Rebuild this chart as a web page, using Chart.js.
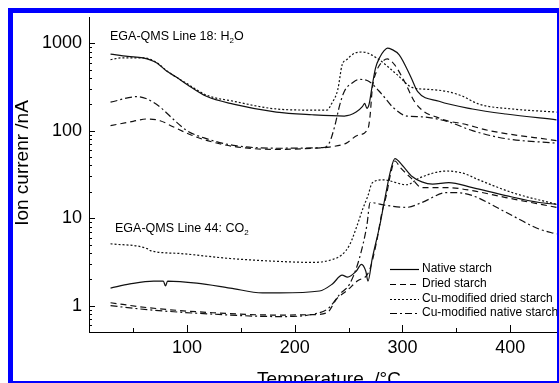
<!DOCTYPE html>
<html>
<head>
<meta charset="utf-8">
<script src="https://cdn.jsdelivr.net/npm/chart.js@4.4.1/dist/chart.umd.min.js"></script>
<style>
  html, body { margin: 0; padding: 0; background: #fff; }
  canvas { display: block; }
</style>
</head>
<body>
<canvas id="grafico" width="559" height="383"></canvas>
<script>
// H2O (linha 18)
const tempNativeH2O = [29, 45, 59, 72, 81, 90, 100, 118, 143, 183, 216, 246, 257, 263, 265, 267, 269, 272, 275, 279, 283, 286, 290, 297, 308, 314, 334, 365, 396, 443];
const nativeH2O = [750, 705, 680, 595, 480, 410, 337, 247, 201, 163, 152, 147, 163, 190, 205, 180, 200, 330, 520, 690, 820, 880, 850, 735, 405, 281, 217, 177, 155, 133];

const tempDriedH2O = [29, 50, 63, 75, 87, 105, 119, 143, 183, 217, 232, 248, 258, 268, 270, 272, 276, 281, 286, 293, 302, 311, 320, 331, 341, 356, 381, 443];
const driedH2O = [114, 128, 136, 130, 111, 88, 77, 66, 61, 63, 65, 72, 88, 105, 150, 300, 480, 610, 660, 560, 363, 217, 165, 144, 130, 120, 100, 77];

const tempCuDriedH2O = [29, 40, 59, 72, 81, 100, 118, 143, 183, 216, 230, 234, 240, 244, 248, 256, 263, 276, 295, 309, 325, 341, 356, 371, 402, 443];
const cuDriedH2O = [650, 680, 680, 600, 485, 345, 255, 217, 177, 172, 172, 201, 296, 566, 644, 772, 793, 678, 437, 312, 296, 281, 247, 201, 177, 163];

const tempCuNativeH2O = [29, 54, 63, 75, 87, 100, 118, 143, 183, 226, 232, 237, 242, 246, 254, 260, 269, 281, 291, 304, 318, 343, 365, 396, 443];
const cuNativeH2O = [212, 245, 230, 186, 136, 100, 81, 68, 63, 64, 72, 111, 201, 281, 356, 385, 365, 260, 186, 147, 144, 126, 100, 81, 72];

// CO2 (linha 44)
const tempNativeCO2 = [29, 47, 69, 78, 80, 82, 109, 140, 170, 186, 223, 235, 244, 249, 257, 262, 266, 268, 272, 279, 283, 289, 293, 300, 309, 318, 328, 343, 365, 396, 427, 443];
const nativeCO2 = [1.59, 1.77, 1.91, 1.91, 1.68, 1.91, 1.81, 1.59, 1.40, 1.40, 1.47, 1.77, 2.23, 2.12, 2.47, 2.97, 2.47, 1.91, 3.46, 8.3, 15.1, 35, 48, 40, 30, 26, 24.5, 25.5, 22.3, 18.1, 15.1, 14.4];

const tempDriedCO2 = [29, 63, 124, 186, 217, 230, 239, 248, 258, 269, 276, 281, 285, 289, 293, 298, 309, 318, 343, 365, 396, 443];
const driedCO2 = [1.08, 0.95, 0.83, 0.78, 0.79, 0.83, 1.2, 1.47, 1.91, 2.47, 5.37, 11.7, 18.1, 32, 45, 38, 28, 22.3, 22.3, 20.6, 17.2, 13.3];

const tempCuDriedCO2 = [29, 63, 66, 94, 140, 186, 217, 235, 244, 251, 258, 263, 268, 272, 282, 304, 316, 341, 356, 371, 402, 443];
const cuDriedCO2 = [5.1, 4.49, 4.26, 3.94, 3.46, 3.2, 3.12, 3.37, 3.84, 4.97, 8.3, 12.6, 18.1, 25.3, 27.4, 24.1, 28.9, 34.6, 32.7, 27.4, 19.6, 14.4];

const tempCuNativeCO2 = [29, 63, 124, 186, 223, 232, 242, 251, 260, 267, 270, 285, 304, 318, 341, 350, 365, 396, 427, 443];
const cuNativeCO2 = [1.0, 0.9, 0.8, 0.75, 0.83, 0.95, 1.36, 1.77, 3.46, 8.3, 15.1, 14, 13.3, 15.1, 19.6, 19.6, 18.1, 11.7, 7.5, 6.6];

const legendas = ["Native starch", "Dried starch", "Cu-modified dried starch", "Cu-modified native starch"];
const xTicks = [100, 200, 300, 400];
const yTicks = [1, 10, 100, 1000];

const tracos = [[], [6, 4], [2, 2], [7, 3, 2, 3]];
const fonte = "'Liberation Sans', Arial, sans-serif";

function juntar(ts, vs) {
  return ts.map((t, i) => ({ x: t, y: vs[i] }));
}

function serie(ts, vs, estilo, nome) {
  return {
    label: nome,
    data: juntar(ts, vs),
    borderColor: "#111",
    borderWidth: 1.2,
    borderDash: tracos[estilo],
    pointRadius: 0,
    fill: false,
    cubicInterpolationMode: "monotone",
  };
}

// texto com subscrito
function textoSub(ctx, partes, x, y) {
  let cx = x;
  partes.forEach(([txt, sub]) => {
    ctx.font = (sub ? "8px " : "12.5px ") + fonte;
    ctx.fillText(txt, cx, sub ? y + 3 : y);
    cx += ctx.measureText(txt).width;
  });
}

const decoracao = {
  id: "decoracao",
  afterDraw(chart) {
    const ctx = chart.ctx;
    const a = chart.chartArea;
    const xs = chart.scales.x;
    const ys = chart.scales.y;
    ctx.save();
    ctx.strokeStyle = "#000";
    ctx.lineWidth = 1;

    // ticks para dentro
    ctx.beginPath();
    for (let v = 50; v <= xs.max; v += 50) {
      const px = Math.round(xs.getPixelForValue(v)) + 0.5;
      const len = v % 100 === 0 ? 7 : 4;
      ctx.moveTo(px, a.bottom);
      ctx.lineTo(px, a.bottom - len);
    }
    for (let k = -1; k <= 3; k++) {
      for (let m = 1; m <= 9; m++) {
        const v = m * Math.pow(10, k);
        if (v < ys.min || v > ys.max) continue;
        const py = Math.round(ys.getPixelForValue(v)) + 0.5;
        const len = m === 1 ? 6 : 3;
        ctx.moveTo(a.left, py);
        ctx.lineTo(a.left + len, py);
      }
    }
    ctx.stroke();

    // anotações
    ctx.fillStyle = "#000";
    ctx.textBaseline = "alphabetic";
    ctx.textAlign = "left";
    textoSub(ctx, [["EGA-QMS Line 18: H", false], ["2", true], ["O", false]], 110, 40);
    textoSub(ctx, [["EGA-QMS Line 44: CO", false], ["2", true]], 115, 232);

    // legenda
    const linhasY = [269, 284, 299, 313];
    ctx.font = "12px " + fonte;
    ctx.textBaseline = "middle";
    legendas.forEach((nome, i) => {
      ctx.beginPath();
      ctx.setLineDash(tracos[i]);
      ctx.lineWidth = 1.2;
      ctx.moveTo(390, linhasY[i] + 0.5);
      ctx.lineTo(419, linhasY[i] + 0.5);
      ctx.stroke();
      ctx.setLineDash([]);
      ctx.fillText(nome, 422, linhasY[i]);
    });

    // títulos dos eixos
    ctx.font = "19px " + fonte;
    ctx.textAlign = "center";
    ctx.textBaseline = "alphabetic";
    ctx.fillText("Temperature  /°C", 329, 385);
    ctx.save();
    ctx.translate(28, 163);
    ctx.rotate(-Math.PI / 2);
    ctx.fillText("Ion currenr /nA", 0, 0);
    ctx.restore();

    // moldura azul
    ctx.fillStyle = "#0000ff";
    ctx.fillRect(8, 8, 551, 5);
    ctx.fillRect(8, 8, 5, 375);
    ctx.fillRect(557, 8, 2, 375);
    ctx.fillRect(8, 381, 551, 2);
    ctx.restore();
  },
};

const ctx = document.getElementById("grafico").getContext("2d");

new Chart(ctx, {
  type: "line",
  data: {
    datasets: [
      serie(tempNativeH2O, nativeH2O, 0, legendas[0]),
      serie(tempDriedH2O, driedH2O, 1, legendas[1]),
      serie(tempCuDriedH2O, cuDriedH2O, 2, legendas[2]),
      serie(tempCuNativeH2O, cuNativeH2O, 3, legendas[3]),
      serie(tempNativeCO2, nativeCO2, 0, legendas[0]),
      serie(tempDriedCO2, driedCO2, 1, legendas[1]),
      serie(tempCuDriedCO2, cuDriedCO2, 2, legendas[2]),
      serie(tempCuNativeCO2, cuNativeCO2, 3, legendas[3]),
    ],
  },
  options: {
    responsive: false,
    animation: false,
    devicePixelRatio: 1,
    layout: { padding: { top: 13, right: 2, left: 0, bottom: 0 } },
    plugins: { legend: { display: false }, tooltip: { enabled: false } },
    scales: {
      x: {
        type: "linear",
        min: 9,
        max: 443.5,
        afterBuildTicks: (s) => { s.ticks = xTicks.map((v) => ({ value: v })); },
        afterFit: (s) => { s.height = 51; },
        grid: { display: false, drawTicks: false },
        border: { display: true, color: "#000", width: 1 },
        ticks: { color: "#000", font: { family: fonte, size: 18 }, padding: 5, maxRotation: 0 },
      },
      y: {
        type: "logarithmic",
        min: 0.5,
        max: 1950,
        afterBuildTicks: (s) => { s.ticks = yTicks.map((v) => ({ value: v })); },
        afterFit: (s) => { s.width = 89; },
        grid: { display: false, drawTicks: false },
        border: { display: true, color: "#000", width: 1 },
        ticks: { color: "#000", font: { family: fonte, size: 18 }, padding: 7, callback: (v) => String(v) },
      },
    },
  },
  plugins: [decoracao],
});
</script>
</body>
</html>
